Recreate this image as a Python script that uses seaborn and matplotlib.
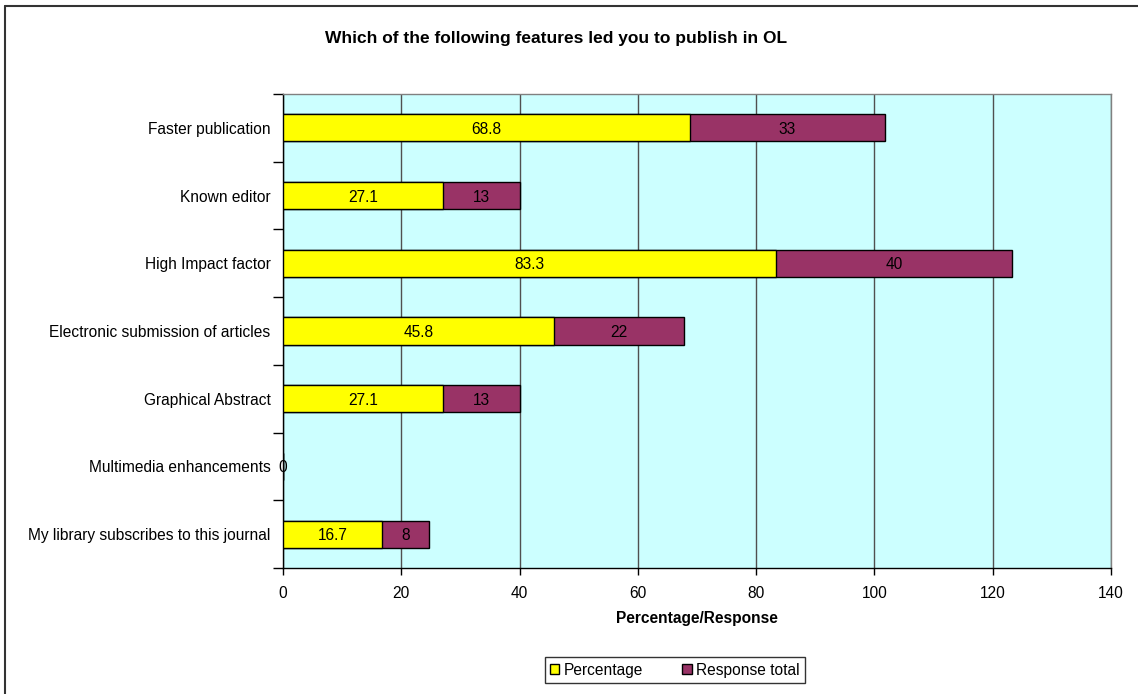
import matplotlib
matplotlib.use("Agg")
import matplotlib.pyplot as plt
import seaborn as sns
import pandas as pd
import numpy as np
from matplotlib.lines import Line2D
from matplotlib.patches import Patch

categories = ["Faster publication", "Known editor", "High Impact factor",
              "Electronic submission of articles", "Graphical Abstract",
              "Multimedia enhancements", "My library subscribes to this journal"]
percentage = [68.8, 27.1, 83.3, 45.8, 27.1, 0, 16.7]
response_total = [33, 13, 40, 22, 13, 0, 8]
x_ticks = [0, 20, 40, 60, 80, 100, 120, 140]

sns.set_theme(style="white")
plt.rcParams['font.family'] = ['Liberation Sans', 'DejaVu Sans']
plt.rcParams['text.color'] = 'black'
plt.rcParams['axes.labelcolor'] = 'black'
plt.rcParams['xtick.color'] = 'black'
plt.rcParams['ytick.color'] = 'black'

FS = 11.2

df = pd.DataFrame({"cat": categories, "pct": percentage, "resp": response_total})
df["total"] = df["pct"] + df["resp"]

fig = plt.figure(figsize=(11.38, 6.94), dpi=100)
ax = fig.add_axes([283/1138, 1-568/694, (1111-283)/1138, (568-94)/694])
ax.set_facecolor("#CCFFFF")

sns.barplot(data=df, y="cat", x="total", orient="h", color="#993366", width=0.4,
            edgecolor="black", linewidth=1, saturation=1, ax=ax, zorder=3)
sns.barplot(data=df, y="cat", x="pct", orient="h", color="#FFFF00", width=0.4,
            edgecolor="black", linewidth=1, saturation=1, ax=ax, zorder=4)

for i, (p, r) in enumerate(zip(df["pct"], df["resp"])):
    ax.text(p/2, i, f"{p:g}", ha="center", va="center_baseline", fontsize=FS,
            color="black", zorder=5)
    if r > 0:
        ax.text(p + r/2, i, f"{r:g}", ha="center", va="center_baseline", fontsize=FS,
                color="black", zorder=5)

ax.set_xlim(0, 140)
ax.set_ylim(len(categories) - 0.5, -0.5)
ax.set_xticks(x_ticks)
ax.set_xticklabels([str(t) for t in x_ticks], fontsize=FS)
ax.xaxis.grid(True, color="#505050", linewidth=1, zorder=1)
ax.set_axisbelow(True)

ax.set_yticks(range(len(categories)))
ax.set_yticklabels(categories, fontsize=FS)
ax.set_yticks(np.arange(-0.5, len(categories), 1), minor=True)
ax.tick_params(axis="y", which="major", length=0, pad=9, colors="black")
ax.tick_params(axis="y", which="minor", length=7, width=1, color="black", direction="out", left=True)
ax.tick_params(axis="x", which="major", length=5, width=1, color="black", labelcolor="black",
               direction="out", bottom=True, pad=8)

ax.set_ylabel("")
ax.set_xlabel("Percentage/Response", fontsize=FS, fontweight="bold", labelpad=7, color="black")

for s in ["left", "bottom"]:
    ax.spines[s].set_color("black")
    ax.spines[s].set_linewidth(1)
for s in ["top", "right"]:
    ax.spines[s].set_color("#808080")
    ax.spines[s].set_linewidth(1)

fig.text(556/1138, 1-38/694, "Which of the following features led you to publish in OL",
         ha="center", va="center", fontsize=12.5, fontweight="bold", color="black")

handles = [Patch(facecolor="#FFFF00", edgecolor="black", label="Percentage"),
           Patch(facecolor="#993366", edgecolor="black", label="Response total")]
leg = fig.legend(handles=handles, loc="center", bbox_to_anchor=(675/1138, 1-670/694),
                 ncol=2, fontsize=FS, frameon=True, fancybox=False,
                 handlelength=0.6, handleheight=0.6, handletextpad=0.3, columnspacing=2.5,
                 borderpad=0.35)
leg.get_frame().set_edgecolor("black")
leg.get_frame().set_linewidth(1)
for t in leg.get_texts():
    t.set_color("black")

# outer chart frame (left and top edges visible)
fig.add_artist(Line2D([4.5/1138, 4.5/1138], [0, 1-6/694], transform=fig.transFigure,
                      color="#333333", linewidth=1.5))
fig.add_artist(Line2D([4.5/1138, 1], [1-6/694, 1-6/694], transform=fig.transFigure,
                      color="#333333", linewidth=1.5))

fig.savefig("out.png", dpi=100)
